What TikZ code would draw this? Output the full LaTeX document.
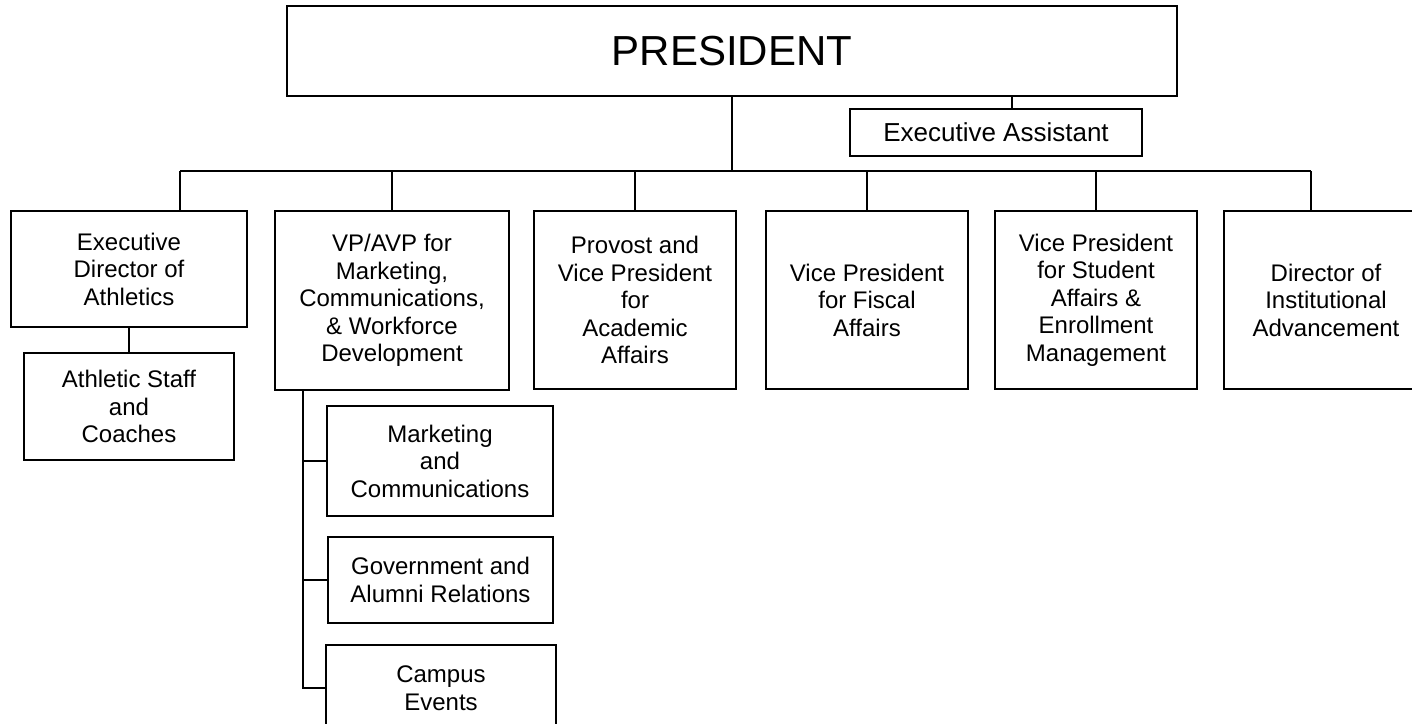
\documentclass[tikz,border=0pt]{standalone}
\usepackage{fontspec}
\setmainfont{Liberation Sans}
\usetikzlibrary{positioning}

\begin{document}
\begin{tikzpicture}[
        x=1pt,y=-1pt,line width=1.2pt,
        office/.style={draw,align=center,inner sep=0pt,font=\fontsize{24}{27.5}\selectfont},
        topbox/.style={office,font=\fontsize{42}{48}\selectfont},
        assistbox/.style={office,font=\fontsize{26}{30}\selectfont},
        ]
        \useasboundingbox (0,0) rectangle (1412,723);

        \node[topbox,minimum width=890pt,minimum height=90pt] (pres) at (732,51) {PRESIDENT};
        \node[assistbox,minimum width=292pt,minimum height=47pt] (ea) at (996,132.5) {Executive Assistant};

        % second row
        \node[office,minimum width=236pt,minimum height=116pt] (ath) at (129,269) {Executive\\Director of\\Athletics};
        \node[office,minimum width=234pt,minimum height=179pt] (vpm) at (392,300.5) {VP/AVP for\\Marketing,\\Communications,\\\& Workforce\\Development};
        \node[office,minimum width=202pt,minimum height=178pt] (prov) at (635,300) {Provost and\\Vice President\\for\\Academic\\Affairs};
        \node[office,minimum width=202pt,minimum height=178pt] (fisc) at (867,300) {Vice President\\for Fiscal\\Affairs};
        \node[office,minimum width=202pt,minimum height=178pt] (stud) at (1096,300) {Vice President\\for Student\\Affairs \&\\Enrollment\\Management};
        \node[office,minimum width=204pt,minimum height=178pt] (dir) at (1326,300) {Director of\\Institutional\\Advancement};

        % third row
        \node[office,minimum width=210pt,minimum height=107pt] (staff) at (129,406.5) {Athletic Staff\\and\\Coaches};
        \node[office,minimum width=226pt,minimum height=110pt] (mkt) at (440,461) {Marketing\\and\\Communications};
        \node[office,minimum width=225pt,minimum height=86pt] (gov) at (440.5,580) {Government and\\Alumni Relations};
        \node[office,minimum width=230pt,minimum height=86pt] (camp) at (441,688) {Campus\\Events};

        \coordinate (bus_l) at (180,171);
        \coordinate (bus_r) at (1311,171);
        \coordinate (ea_top) at (1012,109);
        \coordinate (vpm_bus) at (303,390);

        \draw (pres.south) -- (pres.south |- bus_l);
        \draw (bus_l) -- (bus_r);
        \draw (ea_top) -- (ea_top |- pres.south);
        \draw (bus_l) -- (bus_l |- ath.north);
        \draw (bus_r) -- (bus_r |- dir.north);
        \foreach \n in {vpm,prov,fisc,stud}
          \draw (\n.north) -- (\n.north |- bus_l);
        \draw (ath.south) -- (staff.north);
        \draw (vpm_bus) |- (camp.west);
        \foreach \n in {mkt,gov}
          \draw (vpm_bus |- \n.west) -- (\n.west);
      \end{tikzpicture}
\end{document}
